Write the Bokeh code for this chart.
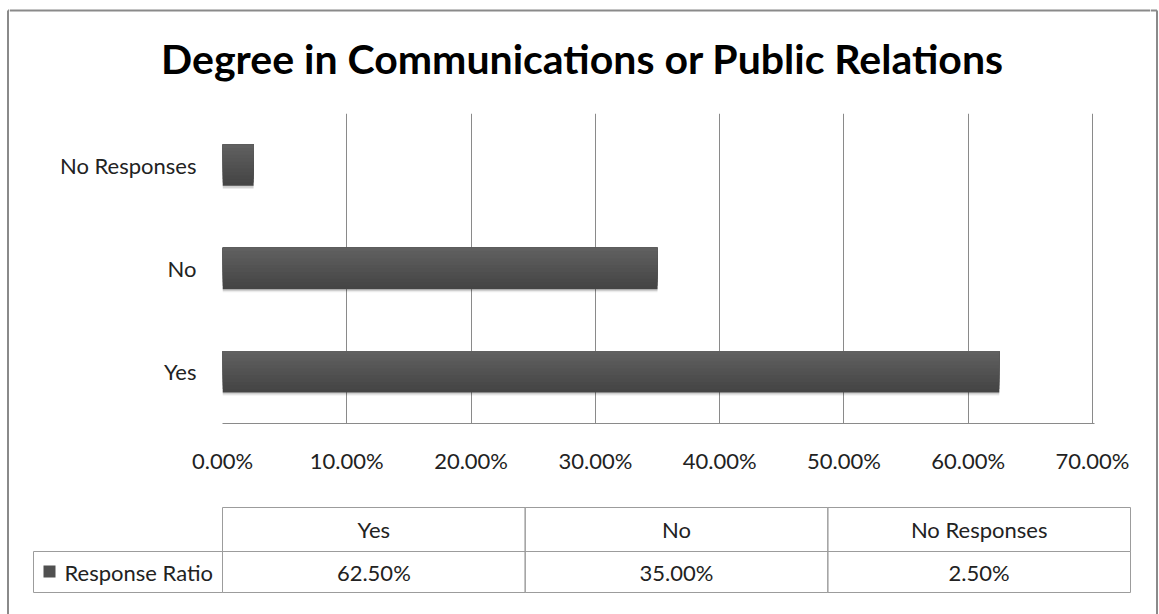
from bokeh.plotting import figure
from bokeh.layouts import column, row
from bokeh.models import (FactorRange, Range1d, FixedTicker, NumeralTickFormatter,
                          ColumnDataSource)
from bokeh.core.properties import value
from bokeh.transform import dodge
from bokeh.embed import file_html
from bokeh.resources import INLINE

# ---- data ----
title_text = "Degree in Communications or Public Relations"
categories = ["Yes", "No", "No Responses"]
response_ratio = [0.625, 0.35, 0.025]
series_name = "Response Ratio"
x_ticks = [0.0, 0.1, 0.2, 0.3, 0.4, 0.5, 0.6, 0.7]

# ---- layout constants (pixels) ----
W, H = 1159, 614
FONT = "Lato"
TXT = "#222222"
GRID = "#8a8a8a"
BORDER = "#8a8a8a"
LINE = "#9c9c9c"
FS = "22px"
BL, BR, BT = 7.5, 1156.5, 10  # outer border
TOP_H, MID_H = 100, 390
BOT_H = H - TOP_H - MID_H
SIDE = 9
INNER_W = W - 2 * SIDE


def strip(width, height, x0=0):
    f = figure(width=width, height=height, output_backend="svg", toolbar_location=None,
               x_range=Range1d(x0, x0 + width), y_range=Range1d(height, 0),
               x_axis_location=None, y_axis_location=None,
               min_border=0, min_border_left=0, min_border_right=0,
               min_border_top=0, min_border_bottom=0)
    f.grid.visible = False
    f.outline_line_color = None
    f.background_fill_color = "white"
    f.border_fill_color = "white"
    return f


# ---- full-height side strips (outer border) ----
fl = strip(SIDE, H, 0)
fl.segment(x0=[BL, BL], y0=[BT, BT], x1=[BL, SIDE], y1=[H, BT],
           line_color=BORDER, line_width=2)
fr = strip(SIDE, H, W - SIDE)
fr.segment(x0=[BR, W - SIDE], y0=[BT, BT], x1=[BR, BR], y1=[H, BT],
           line_color=BORDER, line_width=2)

# ---- title strip ----
ft = strip(INNER_W, TOP_H, SIDE)
ft.segment(x0=[SIDE], y0=[BT], x1=[W - SIDE], y1=[BT], line_color=BORDER, line_width=2)
ft.text(x=[582], y=[58], text=[title_text], text_align="center", text_baseline="middle",
        text_font=value(FONT), text_font_size="41px", text_font_style="bold",
        text_color="#000000")

# ---- chart ----
FL, FR, FT, FB = 222, 1094, 113, 423   # frame in page pixels
x_end = x_ticks[-1] * (FR - FL) / 870.0
p = figure(width=INNER_W, height=MID_H, output_backend="svg", toolbar_location=None,
           y_range=FactorRange(factors=categories, range_padding=0),
           x_range=Range1d(0, x_end),
           min_border_left=FL - SIDE, min_border_right=(W - SIDE) - FR,
           min_border_top=FT - TOP_H, min_border_bottom=(TOP_H + MID_H) - FB)
p.outline_line_color = None
p.background_fill_color = "white"
p.border_fill_color = "white"

src = ColumnDataSource(dict(cat=categories, val=response_ratio))

bar_h = 0.4
# soft shadow
for off, a in [(-0.03, 0.08), (-0.018, 0.12)]:
    p.hbar(y=dodge("cat", off, range=p.y_range), left=0, right="val", height=bar_h,
           source=src, fill_color="#000000", fill_alpha=a, line_color=None)
# gradient bar: darker at bottom, lighter at top
n = 12
for i in range(n):
    hh = bar_h * (n - i) / n
    off = -bar_h / 2 + i * bar_h / n + hh / 2
    shade = int(0x45 + (0x60 - 0x45) * i / (n - 1))
    c = f"#{shade:02x}{shade:02x}{shade:02x}"
    p.hbar(y=dodge("cat", off, range=p.y_range), left=0, right="val",
           height=hh, source=src, fill_color=c, line_color=None)

# axes
p.xaxis.ticker = FixedTicker(ticks=x_ticks)
p.xaxis.formatter = NumeralTickFormatter(format="0.00%")
p.xaxis.axis_line_color = GRID
p.xaxis.major_label_standoff = 23
p.yaxis.axis_line_color = None
p.yaxis.major_label_standoff = 26
for ax in (p.xaxis, p.yaxis):
    ax.major_tick_line_color = None
    ax.minor_tick_line_color = None
    ax.major_tick_out = 0
    ax.major_tick_in = 0
    ax.minor_tick_out = 0
    ax.major_label_text_font = FONT
    ax.major_label_text_font_size = FS
    ax.major_label_text_color = TXT

p.xgrid.ticker = FixedTicker(ticks=x_ticks)
p.xgrid.grid_line_color = GRID
p.ygrid.grid_line_color = None

# ---- table strip ----
fb = strip(INNER_W, BOT_H, SIDE)
Y0 = TOP_H + MID_H

t_left, t_right = 222, 1130
hdr_top, row_top, row_bot = 507 - Y0, 551 - Y0, 592 - Y0
lab_left = 33
ncol = len(categories)
col_w = (t_right - t_left) / ncol
lefts = [t_left + i * col_w for i in range(ncol)]
rights = [l + col_w for l in lefts]
centers = [(l + r) / 2 for l, r in zip(lefts, rights)]

fb.quad(left=lefts, right=rights, top=[hdr_top] * ncol, bottom=[row_top] * ncol,
        fill_color=None, line_color=LINE, line_width=1)
fb.quad(left=lefts + [lab_left], right=rights + [t_left],
        top=[row_top] * (ncol + 1), bottom=[row_bot] * (ncol + 1),
        fill_color=None, line_color=LINE, line_width=1)
fb.text(x=centers, y=[(hdr_top + row_top) / 2] * ncol, text=categories,
        text_align="center", text_baseline="middle", text_font=value(FONT),
        text_font_size=FS, text_color=TXT)
fb.text(x=centers, y=[(row_top + row_bot) / 2] * ncol,
        text=[f"{v * 100:.2f}%" for v in response_ratio],
        text_align="center", text_baseline="middle", text_font=value(FONT),
        text_font_size=FS, text_color=TXT)
fb.quad(left=[43], right=[55], top=[565 - Y0], bottom=[577 - Y0],
        fill_color="#505050", line_color=None)
fb.text(x=[64], y=[(row_top + row_bot) / 2], text=[series_name],
        text_align="left", text_baseline="middle", text_font=value(FONT),
        text_font_size=FS, text_color=TXT)

layout = row(fl, column(ft, row(p), fb), fr)
open("out.html", "w").write(file_html(layout, INLINE))
